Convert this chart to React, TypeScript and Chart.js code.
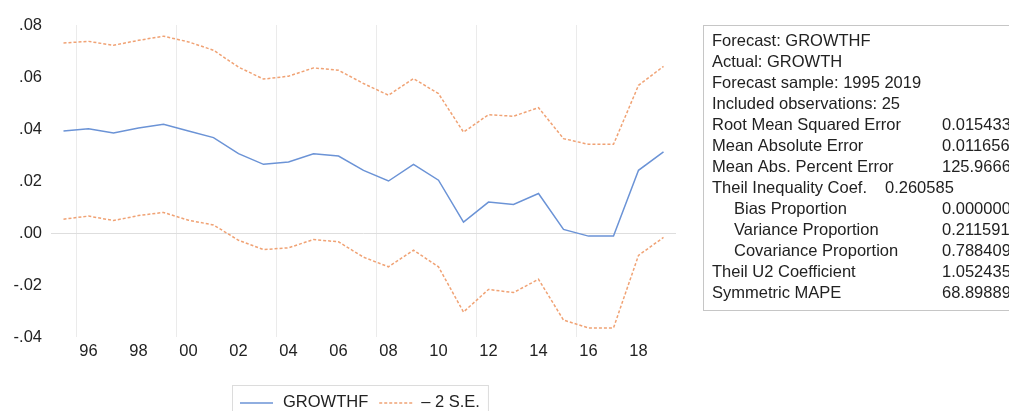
import React, { useEffect, useRef } from 'react';
import { Chart, registerables } from 'chart.js';

Chart.register(...registerables);

// ---- data ----
const years = [1995, 1996, 1997, 1998, 1999, 2000, 2001, 2002, 2003, 2004, 2005, 2006, 2007, 2008, 2009, 2010, 2011, 2012, 2013, 2014, 2015, 2016, 2017, 2018, 2019];
const growthf = [0.0392, 0.0401, 0.0385, 0.0404, 0.0418, 0.0392, 0.0367, 0.0305, 0.0264, 0.0273, 0.0305, 0.0296, 0.0241, 0.0200, 0.0264, 0.0203, 0.0042, 0.0119, 0.0110, 0.0152, 0.0014, -0.0012, -0.0012, 0.0241, 0.0312];
const upperSE = [0.0731, 0.0737, 0.0722, 0.0741, 0.0757, 0.0735, 0.0703, 0.0638, 0.0592, 0.0603, 0.0635, 0.0626, 0.0575, 0.0530, 0.0594, 0.0536, 0.0388, 0.0455, 0.0449, 0.0482, 0.0363, 0.0341, 0.0341, 0.0568, 0.0641];
const lowerSE = [0.0053, 0.0065, 0.0048, 0.0067, 0.0079, 0.0049, 0.0031, -0.0028, -0.0064, -0.0057, -0.0025, -0.0034, -0.0093, -0.0130, -0.0066, -0.0130, -0.0304, -0.0217, -0.0229, -0.0178, -0.0335, -0.0365, -0.0365, -0.0086, -0.0017];

const xLabelYears = [1996, 1998, 2000, 2002, 2004, 2006, 2008, 2010, 2012, 2014, 2016, 2018];
const xGridYears = [1995.5, 1999.5, 2003.5, 2007.5, 2011.5, 2015.5];
const yTickValues = [-0.04, -0.02, 0, 0.02, 0.04, 0.06, 0.08];

const legendLabels = ['GROWTHF', '\u2013 2 S.E.'];

const statLabels = [
  'Forecast: GROWTHF',
  'Actual: GROWTH',
  'Forecast sample: 1995 2019',
  'Included observations: 25',
  'Root Mean Squared Error',
  'Mean Absolute Error',
  'Mean Abs. Percent Error',
  'Theil Inequality Coef.',
  'Bias Proportion',
  'Variance Proportion',
  'Covariance Proportion',
  'Theil U2 Coefficient',
  'Symmetric MAPE',
];
const statValues = ['', '', '', '', '0.015433', '0.011656', '125.9666', '0.260585', '0.000000', '0.211591', '0.788409', '1.052435', '68.89889'];
const statIndent = [false, false, false, false, false, false, false, false, true, true, true, false, false];
const statInline = [false, false, false, false, false, false, false, true, false, false, false, false, false];

// ---- style ----
const FONT_FAMILY = "Arial, 'Liberation Sans', Helvetica, sans-serif";
const FONT_SIZE = 16.5;
const TEXT_COLOR = '#222222';
const BLUE = '#6b93d6';
const ORANGE = '#f0a274';

const fmtY = (v: number) => {
  const s = v.toFixed(2);
  return s.replace(/^(-?)0\./, '$1.');
};

const overlayPlugin = {
  id: 'overlay',
  afterDraw(chart: any) {
    const ctx: CanvasRenderingContext2D = chart.ctx;
    ctx.save();
    ctx.font = `${FONT_SIZE}px ${FONT_FAMILY}`;
    ctx.textBaseline = 'middle';
    ctx.textAlign = 'left';

    // stats box
    ctx.strokeStyle = '#c6c6c6';
    ctx.lineWidth = 1;
    ctx.setLineDash([]);
    ctx.strokeRect(703.5, 25.5, 420, 285);
    ctx.fillStyle = TEXT_COLOR;
    for (let i = 0; i < statLabels.length; i++) {
      const y = 41 + i * 21;
      const x = statIndent[i] ? 734 : 712;
      ctx.fillText(statLabels[i], x, y);
      if (statValues[i]) {
        ctx.fillText(statValues[i], statInline[i] ? 885 : 942, y);
      }
    }

    // legend box
    const ds = chart.data.datasets;
    const w1 = ctx.measureText(legendLabels[0]).width;
    const w2 = ctx.measureText(legendLabels[1]).width;
    const bx = 232;
    const by = 385;
    const bw = 8 + 33 + 10 + w1 + 11 + 33 + 9 + w2 + 8;
    ctx.strokeStyle = '#dcdcdc';
    ctx.strokeRect(bx + 0.5, by + 0.5, bw, 40);
    const ly = 403;
    let x = bx + 8;
    ctx.lineWidth = 1.5;
    ctx.strokeStyle = ds[0].borderColor;
    ctx.setLineDash([]);
    ctx.beginPath();
    ctx.moveTo(x, ly);
    ctx.lineTo(x + 33, ly);
    ctx.stroke();
    x += 43;
    ctx.fillStyle = TEXT_COLOR;
    ctx.fillText(legendLabels[0], x, 402);
    x += w1 + 11;
    ctx.strokeStyle = ds[1].borderColor;
    ctx.setLineDash(ds[1].borderDash || []);
    ctx.beginPath();
    ctx.moveTo(x, ly);
    ctx.lineTo(x + 33, ly);
    ctx.stroke();
    ctx.setLineDash([]);
    x += 42;
    ctx.fillText(legendLabels[1], x, 402);
    ctx.restore();
  },
};

export default function App() {
  const canvasRef = useRef<HTMLCanvasElement | null>(null);

  useEffect(() => {
    if (!canvasRef.current) return;
    const toPts = (arr: number[]) => years.map((yr, i) => ({ x: yr, y: arr[i] }));
    const chart = new Chart(canvasRef.current, {
      type: 'line',
      data: {
        datasets: [
          {
            label: legendLabels[0],
            data: toPts(growthf),
            borderColor: BLUE,
            borderWidth: 1.5,
            pointRadius: 0,
            tension: 0,
            fill: false,
          },
          {
            label: legendLabels[1],
            data: toPts(upperSE),
            borderColor: ORANGE,
            borderWidth: 1.5,
            borderDash: [3, 2],
            pointRadius: 0,
            tension: 0,
            fill: false,
          },
          {
            label: legendLabels[1],
            data: toPts(lowerSE),
            borderColor: ORANGE,
            borderWidth: 1.5,
            borderDash: [3, 2],
            pointRadius: 0,
            tension: 0,
            fill: false,
          },
        ],
      },
      options: {
        responsive: false,
        animation: false,
        devicePixelRatio: 1,
        layout: { padding: { left: 0, top: 25, right: 333, bottom: 0 } },
        plugins: {
          legend: { display: false },
          tooltip: { enabled: false },
        },
        scales: {
          x: {
            type: 'linear',
            min: 1994.5,
            max: 2019.5,
            afterFit: (s: any) => {
              s.height = 74;
            },
            afterBuildTicks: (s: any) => {
              s.ticks = [...xLabelYears, ...xGridYears].sort((a, b) => a - b).map((v) => ({ value: v }));
            },
            ticks: {
              autoSkip: false,
              maxRotation: 0,
              minRotation: 0,
              padding: 5,
              color: TEXT_COLOR,
              font: { family: FONT_FAMILY, size: FONT_SIZE },
              callback: (v: any) => (xLabelYears.includes(v) ? String(v % 100).padStart(2, '0') : ''),
            },
            grid: {
              drawTicks: false,
              lineWidth: 1,
              color: (c: any) => (c.tick && xGridYears.includes(c.tick.value) ? '#ebebeb' : 'rgba(0,0,0,0)'),
            },
            border: { display: false },
          },
          y: {
            type: 'linear',
            min: -0.04,
            max: 0.08,
            afterFit: (s: any) => {
              s.width = 51;
            },
            afterBuildTicks: (s: any) => {
              s.ticks = yTickValues.map((v) => ({ value: v }));
            },
            ticks: {
              padding: 9,
              color: TEXT_COLOR,
              font: { family: FONT_FAMILY, size: FONT_SIZE },
              callback: (v: any) => fmtY(Number(v)),
            },
            grid: {
              drawTicks: false,
              lineWidth: 1,
              color: (c: any) => (c.tick && Math.abs(c.tick.value) < 1e-9 ? '#dedede' : 'rgba(0,0,0,0)'),
            },
            border: { display: false },
          },
        },
      },
      plugins: [overlayPlugin],
    } as any);
    return () => chart.destroy();
  }, []);

  return (
    <div style={{ position: 'absolute', left: 0, top: 0, width: 1009, height: 411, background: '#ffffff' }}>
      <canvas ref={canvasRef} width={1009} height={411} style={{ display: 'block' }} />
    </div>
  );
}
